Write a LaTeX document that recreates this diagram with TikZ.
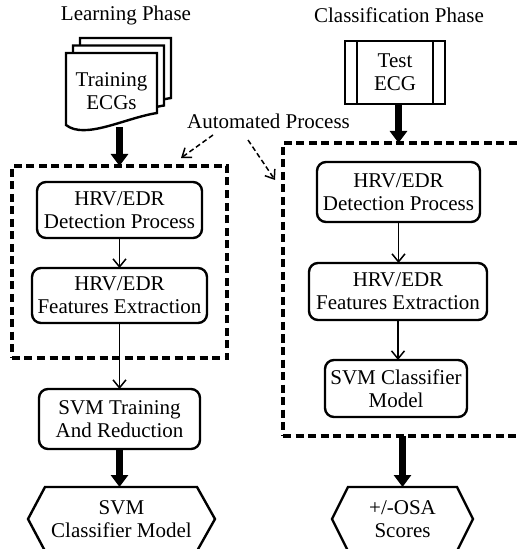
\documentclass[tikz,border=0pt]{standalone}
\usepackage{fontspec}
\setmainfont{Liberation Serif}
\usetikzlibrary{arrows.meta,calc}
\begin{document}
\begin{tikzpicture}[x=1bp,y=-1bp,
  every node/.style={font=\fontsize{21bp}{23bp}\selectfont, inner sep=0pt, outer sep=0pt, align=center},
  proc/.style={draw, line width=2.4bp, rounded corners=9bp},
  dbox/.style={draw, line width=3.2bp, dash pattern=on 8bp off 4.5bp},
  sheet/.style={draw, line width=2.4bp, fill=white, line join=miter},
  thinarrow/.style={line width=1.5bp, -{Straight Barb[length=8bp,width=13bp]}},
  fatarrow/.style={line width=6.5bp, -{Triangle[length=12bp,width=17bp]}},
  autoarrow/.style={line width=1.5bp, dash pattern=on 5bp off 3bp, -{Straight Barb[length=8bp,width=12bp]}},
  hexline/.style={line width=2.4bp, line join=miter},
]
\useasboundingbox (0,0) rectangle (519,549);

% titles
\node (lp) at (126,15) {Learning Phase};
\node (cp) at (399,15) {Classification Phase};

% multi-document
\foreach \X/\Y in {80/38, 73/45.5, 66/53}{
  \draw[sheet] (\X,\Y) -- (\X+91,\Y) -- (\X+91,\Y+60)
    .. controls (\X+59,\Y+65) and (\X+19,\Y+87) .. (\X,\Y+72) -- cycle;
}
\node[minimum width=91bp, minimum height=72bp] (doc) at (111.5,91) {Training\\ECGs};

% test ECG
\node[draw, line width=2.4bp, minimum width=100bp, minimum height=63bp] (test) at (395,72.5) {Test\\ECG};
\draw[line width=2.4bp] ($(test.north west)+(12,0)$) -- ($(test.south west)+(12,0)$);
\draw[line width=2.4bp] ($(test.north east)+(-12,0)$) -- ($(test.south east)+(-12,0)$);

% automated process label
\node (auto) at (268.5,121) {Automated Process};
\coordinate (s1) at (213,135);
\coordinate (a1) at (181,158);
\coordinate (s2) at (248,140);
\coordinate (a2) at (275,180);
\draw[autoarrow] (s1) -- (a1);
\draw[autoarrow] (s2) -- (a2);

% dashed boxes
\node[dbox, minimum width=215bp, minimum height=192bp] (ldash) at (119.5,262) {};
\node[dbox, minimum width=239bp, minimum height=293bp] (rdash) at (402.5,289.5) {};

% left column
\node[proc, minimum width=165bp, minimum height=56bp] (ldet) at (119.5,210) {HRV/EDR\\Detection Process};
\node[proc, minimum width=175bp, minimum height=55bp] (lfeat) at (119.5,295.5) {HRV/EDR\\Features Extraction};
\node[proc, minimum width=161bp, minimum height=60bp] (ltrain) at (119.5,419) {SVM Training\\And Reduction};
\node[minimum width=187bp, minimum height=64bp] (lhex) at (121.5,519) {SVM\\Classifier Model};
\draw[hexline] (lhex.west) -- ($(lhex.north west)+(17,0)$) -- ($(lhex.north east)+(-18,0)$) -- (lhex.east)
  -- ($(lhex.south east)+(-18,0)$) -- ($(lhex.south west)+(17,0)$) -- cycle;

% right column
\node[proc, minimum width=163bp, minimum height=60bp] (rdet) at (398.5,192) {HRV/EDR\\Detection Process};
\node[proc, minimum width=178bp, minimum height=57bp] (rfeat) at (398,291.5) {HRV/EDR\\Features Extraction};
\node[proc, minimum width=142bp, minimum height=57bp] (rsvm) at (396,388.5) {SVM Classifier\\Model};
\node[minimum width=141bp, minimum height=64bp] (rhex) at (402.5,519) {+/-OSA\\Scores};
\draw[hexline] (rhex.west) -- ($(rhex.north west)+(16,0)$) -- ($(rhex.north east)+(-16,0)$) -- (rhex.east)
  -- ($(rhex.south east)+(-16,0)$) -- ($(rhex.south west)+(16,0)$) -- cycle;

% connectors
\draw[fatarrow] (doc.south -| ldash.north) -- (ldash.north);
\draw[thinarrow] (ldet) -- (lfeat);
\draw[thinarrow] (lfeat) -- (ltrain);
\draw[fatarrow] (ltrain.south) -- (ltrain.south |- lhex.north);

\draw[fatarrow] (test.south -| rdet.north) -- (rdash.north -| rdet.north);
\draw[thinarrow] (rdet.south) -- (rdet.south |- rfeat.north);
\draw[thinarrow] (rfeat.south) -- (rfeat.south |- rsvm.north);
\draw[fatarrow] (rdash.south -| rhex.north) -- (rhex.north);
\end{tikzpicture}
\end{document}
